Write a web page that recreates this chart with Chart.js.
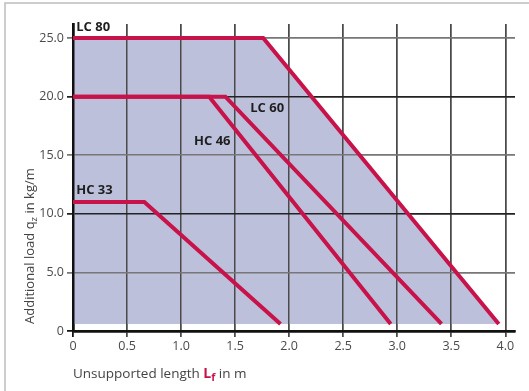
<!DOCTYPE html>
<html>
<head>
<meta charset="utf-8">
<script src="https://cdn.jsdelivr.net/npm/chart.js@4/dist/chart.umd.min.js"></script>
<style>
  html, body { margin: 0; padding: 0; background: #fff; }
  #wrap { width: 529px; height: 391px; position: relative; }
</style>
</head>
<body>
<div id="wrap"><canvas id="c" width="529" height="391"></canvas></div>
<script>
// ---- data ----
const seriesNames = ['LC 80', 'LC 60', 'HC 46', 'HC 33'];
const lc80X = [0, 1.76, 3.94];
const lc80Y = [25, 25, 0.6];
const lc60X = [0, 1.41, 3.41];
const lc60Y = [20, 20, 0.6];
const hc46X = [0, 1.26, 2.94];
const hc46Y = [20, 20, 0.6];
const hc33X = [0, 0.66, 1.92];
const hc33Y = [11, 11, 0.6];
const areaBase = 0.6;
const xTickValues = [0, 0.5, 1.0, 1.5, 2.0, 2.5, 3.0, 3.5, 4.0];
const xTickLabels = ['0', '0.5', '1.0', '1.5', '2.0', '2.5', '3.0', '3.5', '4.0'];
const yTickValues = [0, 5, 10, 15, 20, 25];
const yTickLabels = ['0', '5.0', '10.0', '15.0', '20.0', '25.0'];
// label anchors (data space)
const labelAnchorX = [0.03, 1.64, 1.12, 0.03];
const labelAnchorY = [25.95, 19.0, 16.2, 12.0];

const pts = (xs, ys) => xs.map((x, i) => ({ x: x, y: ys[i] }));

const RED = '#c8124a';
const FILL = '#bcc0db';
const FONT = "'Open Sans', 'Noto Sans', sans-serif";

const lineDs = (name, xs, ys) => ({
  label: name,
  data: pts(xs, ys),
  borderColor: RED,
  borderWidth: 4,
  pointRadius: 0,
  fill: false,
  tension: 0,
  borderCapStyle: 'butt',
  borderJoinStyle: 'miter',
  order: 1
});

const regrid = {
  id: 'regrid',
  afterDatasetDraw(chart, args) {
    if (args.index !== 0) return;
    const ca = chart.chartArea;
    ['x', 'y'].forEach(k => {
      const s = chart.scales[k];
      if (s.drawGrid) s.drawGrid(ca);
      if (s.drawBorder) s.drawBorder();
    });
  }
};

const decor = {
  id: 'decor',
  afterDraw(chart) {
    const ctx = chart.ctx;
    const xs = chart.scales.x, ys = chart.scales.y;
    ctx.save();
    // outer frame (top + left)
    ctx.strokeStyle = '#bdbdbd';
    ctx.lineWidth = 1.5;
    ctx.beginPath();
    ctx.moveTo(5, 391);
    ctx.lineTo(5, 3);
    ctx.lineTo(529, 3);
    ctx.stroke();
    // series labels
    ctx.fillStyle = '#1e1e1e';
    ctx.font = "bold 13px " + FONT;
    ctx.textAlign = 'left';
    ctx.textBaseline = 'middle';
    seriesNames.forEach((n, i) => {
      ctx.fillText(n, xs.getPixelForValue(labelAnchorX[i]), ys.getPixelForValue(labelAnchorY[i]));
    });
    // y title
    ctx.save();
    ctx.translate(34, 324);
    ctx.rotate(-Math.PI / 2);
    ctx.fillStyle = '#444';
    ctx.textBaseline = 'alphabetic';
    ctx.textAlign = 'left';
    ctx.font = "13px " + FONT;
    let t1 = 'Additional load q';
    ctx.fillText(t1, 0, 0);
    let w = ctx.measureText(t1).width;
    ctx.font = "9.5px " + FONT;
    ctx.fillText('z', w, 3);
    w += ctx.measureText('z').width;
    ctx.font = "13px " + FONT;
    ctx.fillText(' in kg/m', w, 0);
    ctx.restore();
    // x title
    let x = 73, y = 378;
    ctx.textBaseline = 'alphabetic';
    ctx.fillStyle = '#444';
    ctx.font = "13.5px " + FONT;
    const a = 'Unsupported length ';
    ctx.fillText(a, x, y);
    x += ctx.measureText(a).width;
    ctx.fillStyle = RED;
    ctx.font = "bold 14px " + FONT;
    ctx.fillText('L', x, y);
    x += ctx.measureText('L').width;
    ctx.font = "bold 10.5px " + FONT;
    ctx.fillText('f', x, y + 3);
    x += ctx.measureText('f').width;
    ctx.fillStyle = '#444';
    ctx.font = "13.5px " + FONT;
    ctx.fillText(' in m', x, y);
    ctx.restore();
  }
};

new Chart(document.getElementById('c'), {
  type: 'line',
  data: {
    datasets: [
      {
        label: 'area',
        data: pts(lc80X, lc80Y),
        borderWidth: 0,
        borderColor: 'rgba(0,0,0,0)',
        backgroundColor: FILL,
        pointRadius: 0,
        fill: { value: areaBase },
        tension: 0,
        order: 10
      },
      lineDs(seriesNames[0], lc80X, lc80Y),
      lineDs(seriesNames[1], lc60X, lc60Y),
      lineDs(seriesNames[2], hc46X, hc46Y),
      lineDs(seriesNames[3], hc33X, hc33Y)
    ]
  },
  plugins: [regrid, decor],
  options: {
    responsive: false,
    animation: false,
    devicePixelRatio: 1,
    layout: { padding: { left: 0, right: 14, top: 24, bottom: 0 } },
    plugins: { legend: { display: false }, tooltip: { enabled: false } },
    scales: {
      x: {
        type: 'linear',
        min: 0,
        max: 4.09,
        afterBuildTicks: s => { s.ticks = xTickValues.map(v => ({ value: v })); },
        afterFit: s => { s.height = 60; },
        ticks: {
          callback: (v, i) => xTickLabels[i],
          color: '#4a4a4a',
          font: { family: FONT, size: 12.5 },
          padding: 2,
          maxRotation: 0,
          autoSkip: false
        },
        grid: {
          color: ctx => ctx.tick && ctx.tick.value === 0 ? '#111' : '#4a4a4a',
          lineWidth: 1.5,
          tickLength: 6,
          drawTicks: true
        },
        border: { display: true, color: '#111', width: 2.5 }
      },
      y: {
        type: 'linear',
        min: 0,
        max: 26.2,
        afterBuildTicks: s => { s.ticks = yTickValues.map(v => ({ value: v })); },
        afterFit: s => { s.width = 73; },
        ticks: {
          callback: (v, i) => yTickLabels[i],
          color: '#4a4a4a',
          font: { family: FONT, size: 12.5 },
          padding: 3,
          autoSkip: false
        },
        grid: {
          color: ctx => {
            const v = ctx.tick ? ctx.tick.value : 0;
            return (v === 0) ? '#111' : (v % 10 === 0 ? '#222' : '#777');
          },
          lineWidth: 1.5,
          tickLength: 6
        },
        border: { display: true, color: '#111', width: 2.5 }
      }
    }
  }
});
</script>
</body>
</html>
